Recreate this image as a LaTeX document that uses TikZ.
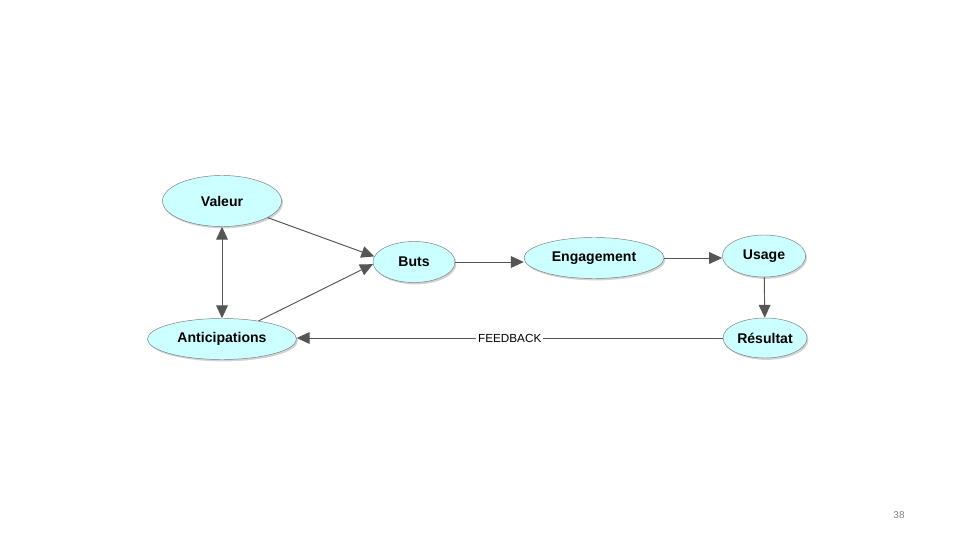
\documentclass[tikz,border=0pt]{standalone}
\usepackage{fontspec}
\setmainfont{Liberation Sans}
\usetikzlibrary{arrows.meta, shapes.geometric, shadows}

\definecolor{bubble}{HTML}{CCFFFF}
\definecolor{rim}{HTML}{7A7A7A}
\definecolor{wire}{HTML}{555555}

\begin{document}
\begin{tikzpicture}[
    x=0.03cm, y=-0.03cm,
    >={Triangle[length=11pt, width=10pt]},
    bubble/.style={
        draw=rim,
        ellipse,
        inner sep=0pt,
        fill=bubble,
        font=\fontsize{12}{14}\selectfont\bfseries,
        drop shadow={shadow xshift=1.2pt, shadow yshift=-1.6pt, opacity=0.35}
    },
    arrow/.style={->, draw=wire, fill=wire, line width=0.8pt}
]
\useasboundingbox (0,0) rectangle (960,540);

\node[bubble, minimum width=3.57cm, minimum height=1.53cm] (valeur) at (222,201) {Valeur};
\node[bubble, minimum width=4.47cm, minimum height=1.23cm] (antic) at (222,339) {Anticipations};
\node[bubble, minimum width=2.46cm, minimum height=1.23cm] (buts) at (414,262) {Buts};
\node[bubble, minimum width=4.2cm, minimum height=1.23cm] (engag) at (594,258) {Engagement};
\node[bubble, minimum width=2.5cm, minimum height=1.26cm] (usage) at (764,256) {Usage};
\node[bubble, minimum width=2.52cm, minimum height=1.2cm] (result) at (765,338) {Résultat};
\node[text=gray, font=\fontsize{8.5}{10}\selectfont] (page) at (899,515) {38};

\draw[arrow, <->] (valeur) -- (antic);
\draw[arrow] (valeur) -- (buts.172);
\draw[arrow] (antic) -- (buts.183);
\draw[arrow] (buts.east) -- (buts.east -| engag.west);
\draw[arrow] (engag.east) -- (engag.east -| usage.west);
\draw[arrow] (usage) -- (result);
\draw[arrow] (result.west) -- node[fill=white, text=black, inner sep=1.5pt,
    font=\fontsize{10}{12}\selectfont] {FEEDBACK} (result.west -| antic.east);

\end{tikzpicture}
\end{document}
